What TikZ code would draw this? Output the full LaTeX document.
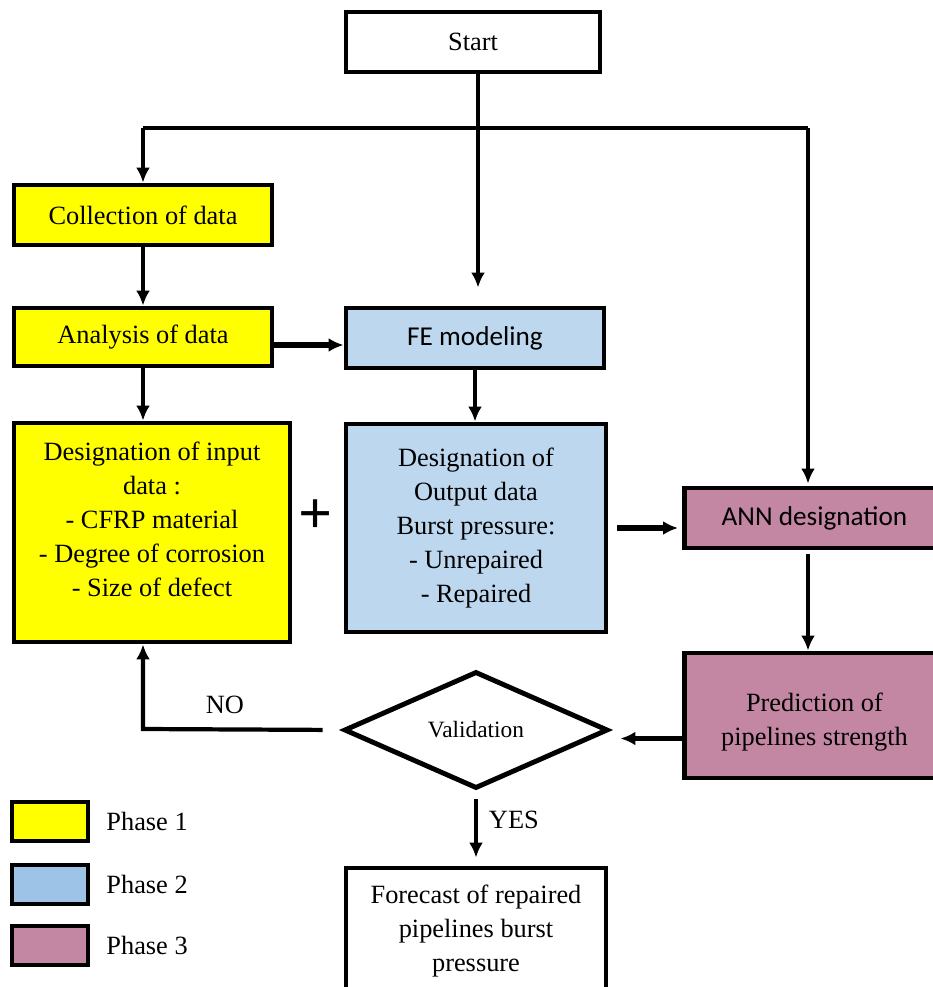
\documentclass[tikz,border=0pt]{standalone}
\usepackage{fontspec}
\setmainfont{Liberation Serif}
\newfontfamily\calibri{Carlito}
\usetikzlibrary{arrows.meta, positioning, shapes.geometric}
\definecolor{phaseone}{RGB}{255,255,0}
\definecolor{phasetwo}{RGB}{189,215,238}
\definecolor{phasetwoleg}{RGB}{157,195,230}
\definecolor{phasethree}{RGB}{195,134,163}

\begin{document}
\begin{tikzpicture}[>={Latex[length=0.3cm,width=0.28cm]}, line width=2.4pt,
    box/.style={draw, line width=2.8pt, align=center, inner sep=2pt, font=\rmfamily\fontsize{15}{19.4}\selectfont},
    calbox/.style={box, font=\calibri\fontsize{15.5}{19}\selectfont},
    legbox/.style={draw, line width=2.8pt, minimum width=1.52cm, minimum height=0.78cm},
    lbl/.style={font=\rmfamily\fontsize{15}{18}\selectfont}]
    \useasboundingbox (0,0) rectangle (18.64,-19.74);

    % Start and branch points
    \node[box, minimum width=5.08cm, minimum height=1.2cm] (start) at (9.46,-0.84) {Start};
    \coordinate (split) at (9.56,-2.56);
    \coordinate (splitL) at (2.86,-2.56);
    \coordinate (splitR) at (16.16,-2.56);

    % Phase 1
    \node[box, fill=phaseone, minimum width=5.16cm, minimum height=1.2cm] (collect) at (2.86,-4.3) {Collection of data};
    \node[box, fill=phaseone, minimum width=5.16cm, minimum height=1.16cm] (analysis) at (2.86,-6.74) {Analysis of data};
    \node[box, fill=phaseone, minimum width=5.52cm, minimum height=4.38cm] (input) at (3.04,-10.65)
        {Designation of input\\ data :\\ - CFRP material\\ - Degree of corrosion\\ - Size of defect\\[-4pt]\mbox{}};
    \node[font=\rmfamily\bfseries\fontsize{34}{34}\selectfont] (plus) at (6.32,-10.34) {+};

    % Phase 2
    \node[calbox, fill=phasetwo, minimum width=5.16cm, minimum height=1.2cm] (fem) at (9.5,-6.76) {FE modeling};
    \node[box, fill=phasetwo, minimum width=5.2cm, minimum height=4.16cm] (output) at (9.52,-10.56)
        {Designation of\\ Output data\\ Burst pressure:\\ - Unrepaired\\ - Repaired};

    % Phase 3
    \node[calbox, fill=phasethree, anchor=west, minimum width=5.2cm, minimum height=1.2cm] (ann) at (13.64,-10.36) {ANN designation};
    \node[box, fill=phasethree, anchor=west, minimum width=5.2cm, minimum height=2.5cm] (pred) at (13.64,-14.31)
        {\mbox{}\\[-1pt]Prediction of\\ pipelines strength};

    % Validation and result
    \node[diamond, draw, line width=2.8pt, minimum width=5.28cm, minimum height=2.34cm, inner sep=0pt,
          font=\rmfamily\fontsize{13.3}{16}\selectfont] (valid) at (9.52,-14.6) {Validation};
    \node[box, minimum width=5.2cm, minimum height=2.52cm] (forecast) at (9.52,-18.62)
        {Forecast of repaired\\ pipelines burst\\ pressure};
    \coordinate (noCorner) at (2.86,-14.58);

    % Arrows
    \draw (start.south -| split) -- (split);
    \draw (splitL) -- (splitR);
    \draw[->] (splitL) -- (collect.north);
    \draw[->, shorten >=0.36cm] (split) -- (split |- fem.north);
    \draw[->, shorten >=0.04cm] (splitR) -- (splitR |- ann.north);
    \draw[->] (collect.south) -- (analysis.north);
    \draw[->, line width=3.4pt] ([yshift=-0.16cm]analysis.east) -- ([yshift=-0.16cm]analysis.east -| fem.west);
    \draw[->] (analysis.south) -- (analysis.south |- input.north);
    \draw[->] (fem.south) -- (fem.south |- output.north);
    \draw[->, line width=3.4pt, shorten <=0.18cm, shorten >=0.08cm] (output.east) -- (output.east -| ann.west);
    \draw[->, shorten <=0.08cm] (ann.south -| splitR) -- (splitR |- pred.north);
    \draw[->, line width=3.4pt, shorten >=0.2cm] ([yshift=-0.46cm]pred.west) -- ([yshift=-0.46cm]pred.west -| valid.east);
    \draw[->, shorten <=0.38cm] (valid.west) -- (noCorner) -- (noCorner |- input.south);
    \draw[->, shorten <=0.16cm, shorten >=0.16cm] (valid.south) -- (forecast.north);
    \node[lbl] (no) at (4.5,-14.1) {NO};
    \node[lbl, anchor=west] (yes) at (9.62,-16.4) {YES};

    % Legend
    \node[legbox, fill=phaseone] (leg1) at (1.0,-16.43) {};
    \node[legbox, fill=phasetwoleg] (leg2) at (1.0,-17.69) {};
    \node[legbox, fill=phasethree] (leg3) at (1.0,-18.91) {};
    \node[lbl, right=0.16cm of leg1] {Phase 1};
    \node[lbl, right=0.16cm of leg2] {Phase 2};
    \node[lbl, right=0.16cm of leg3] {Phase 3};
\end{tikzpicture}
\end{document}
